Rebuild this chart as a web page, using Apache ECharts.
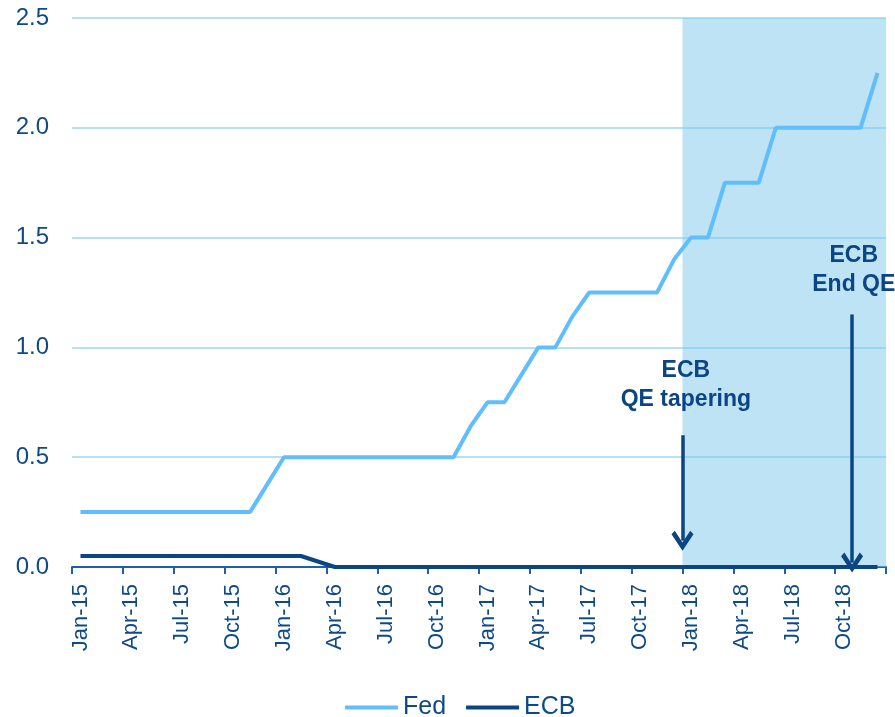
<!DOCTYPE html>
<html>
<head>
<meta charset="utf-8">
<script src="https://cdn.jsdelivr.net/npm/echarts@6/dist/echarts.min.js"></script>
<style>
  html, body { margin: 0; padding: 0; background: #fff; }
  #chart { width: 895px; height: 717px; }
</style>
</head>
<body>
<div id="chart"></div>
<script>
// monthly categories Jan-15 .. Dec-18
const monthNames = ['Jan', 'Feb', 'Mar', 'Apr', 'May', 'Jun', 'Jul', 'Aug', 'Sep', 'Oct', 'Nov', 'Dec']
const years = ['15', '16', '17', '18']
const months = []
years.forEach(y => monthNames.forEach(m => months.push(m + '-' + y)))

// policy rates, %
const fed = [
  0.25, 0.25, 0.25, 0.25, 0.25, 0.25, 0.25, 0.25, 0.25, 0.25, 0.25, 0.375,
  0.5, 0.5, 0.5, 0.5, 0.5, 0.5, 0.5, 0.5, 0.5, 0.5, 0.5, 0.64,
  0.75, 0.75, 0.875, 1.0, 1.0, 1.14, 1.25, 1.25, 1.25, 1.25, 1.25, 1.4,
  1.5, 1.5, 1.75, 1.75, 1.75, 2.0, 2.0, 2.0, 2.0, 2.0, 2.0, 2.25
]
const ecb = [
  0.05, 0.05, 0.05, 0.05, 0.05, 0.05, 0.05, 0.05, 0.05, 0.05, 0.05, 0.05,
  0.05, 0.05, 0.025, 0, 0, 0, 0, 0, 0, 0, 0, 0,
  0, 0, 0, 0, 0, 0, 0, 0, 0, 0, 0, 0,
  0, 0, 0, 0, 0, 0, 0, 0, 0, 0, 0, 0
]

// annotations, x in months since Jan-15
const shadeRange = [36, 48]
const arrows = [
  { x: 36, from: 0.6, to: 0.12 },
  { x: 46, from: 1.15, to: 0.02 }
]
const notes = [
  { x: 36.2, y: 0.83, text: 'ECB\nQE tapering' },
  { x: 46.1, y: 1.35, text: 'ECB\nEnd QE' }
]

const textColor = '#0f4a88'
const chevron = 'path://M10,0 L20,11 L17,13.5 L10,5.5 L3,13.5 L0,11 Z'

const chart = echarts.init(document.getElementById('chart'))
chart.setOption({
  animation: false,
  grid: { left: 72, right: 9, top: 18, bottom: 150 },
  legend: {
    left: 340,
    top: 690,
    icon: 'rect',
    itemWidth: 53,
    itemHeight: 4,
    itemGap: 20,
    textStyle: { color: textColor, fontSize: 25, fontFamily: 'Liberation Sans' },
    data: ['Fed', 'ECB']
  },
  xAxis: [
    {
      type: 'category',
      data: months,
      boundaryGap: true,
      axisLine: { lineStyle: { color: '#1f5fae', width: 2 } },
      axisTick: { show: true, interval: 2, length: 7, lineStyle: { color: '#1f5fae', width: 2 } },
      axisLabel: {
        interval: 2,
        rotate: 90,
        margin: 17,
        color: textColor,
        fontSize: 22,
        fontFamily: 'Liberation Sans'
      },
      splitLine: { show: false }
    },
    {
      type: 'value',
      min: 0,
      max: 48,
      show: false
    }
  ],
  yAxis: {
    type: 'value',
    min: 0,
    max: 2.5,
    interval: 0.5,
    axisLine: { show: false },
    axisTick: { show: false },
    axisLabel: {
      margin: 23,
      color: textColor,
      fontSize: 24,
      fontFamily: 'Liberation Sans',
      formatter: v => v.toFixed(1)
    },
    splitLine: { lineStyle: { color: '#b3e2f7', width: 2 } }
  },
  series: [
    {
      name: 'marks',
      type: 'line',
      xAxisIndex: 1,
      data: [],
      z: 1,
      silent: true,
      markArea: {
        silent: true,
        itemStyle: { color: 'rgba(123,199,235,0.5)' },
        data: [[{ xAxis: shadeRange[0] }, { xAxis: shadeRange[1] }]]
      },
      markLine: {
        silent: true,
        symbol: ['none', chevron],
        symbolSize: [22, 20],
        lineStyle: { color: '#0b4583', width: 3.5, type: 'solid' },
        label: { show: false },
        data: arrows.map(a => [{ coord: [a.x, a.from] }, { coord: [a.x, a.to] }])
      },
      markPoint: {
        silent: true,
        symbol: 'circle',
        symbolSize: 0,
        label: {
          show: true,
          position: 'inside',
          formatter: p => p.name,
          color: '#0b4583',
          fontSize: 23,
          fontWeight: 'bold',
          fontFamily: 'Liberation Sans',
          lineHeight: 29,
          align: 'center'
        },
        data: notes.map(n => ({ name: n.text, coord: [n.x, n.y] }))
      }
    },
    {
      name: 'Fed',
      type: 'line',
      data: fed,
      showSymbol: false,
      z: 3,
      itemStyle: { color: '#62befa' },
      lineStyle: { color: '#62befa', width: 4 }
    },
    {
      name: 'ECB',
      type: 'line',
      data: ecb,
      showSymbol: false,
      z: 4,
      itemStyle: { color: '#0b4583' },
      lineStyle: { color: '#0b4583', width: 4 }
    }
  ]
})
</script>
</body>
</html>
